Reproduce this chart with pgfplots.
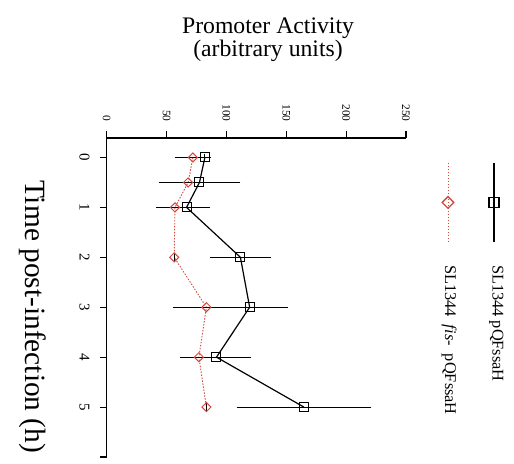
\documentclass[border=0pt]{standalone}
\usepackage{fontspec}
\setmainfont{Liberation Serif}
\usepackage{pgfplots}
\usepackage{pgfplotstable}
\pgfplotsset{compat=1.18}
\definecolor{redc}{RGB}{210,75,62}
\pgfplotstableread{
t a e
0 82 0
0.5 77.5 31
1 66.7 16
2 111.7 22
3 119.4 28.5
4 91.7 26
5 164.7 53
}\wt
\pgfplotstableread{
t a e
0 72 12
0.5 68 14
1 57 13
2 56.4 0
3 83.3 24.5
4 77 13
5 83.3 0
}\fis
\begin{document}
\begin{tikzpicture}
\useasboundingbox (0,0) rectangle (514bp,-464bp);
\begin{axis}[
 at={(106.7bp,-138bp)}, anchor=north west,
 scale only axis, width=299.3bp, height=319bp,
 xmin=0, xmax=250, ymin=-0.39, ymax=6,
 y dir=reverse,
 axis x line=top, axis y line=left,
 axis line style={-, line width=1.1bp, black},
 xtick={0,50,...,250}, ytick={0,...,6}, yticklabels={0,1,2,3,4,5,{}},
 tick align=outside, major tick length=7bp,
 tick style={line width=1.1bp, black},
 /pgf/number format/assume math mode=true,
 xticklabel shift=6bp,
 every x tick label/.style={rotate=-90, anchor=east, font=\fontsize{11.5}{12}\selectfont},
 every y tick label/.style={xshift=-8bp, rotate=-90, anchor=north, inner sep=2bp, font=\fontsize{15}{16}\selectfont},
 xlabel={Promoter Activity\\(arbitrary units)},
 every axis x label/.style={at={(axis description cs:0.539,1.308)}, anchor=center, align=center, font=\fontsize{23.8}{23.5}\selectfont},
 ylabel={Time post-infection (h)},
 every axis y label/.style={at={(axis description cs:-0.246,0.44)}, anchor=center, rotate=-90, font=\fontsize{29.5}{31}\selectfont},
 clip=false,
]
\addplot[redc, line width=0.9bp, dash pattern=on 1.5bp off 1.5bp, mark=square, mark size=3.2bp,
  mark options={rotate=45, solid, fill=white, line width=1bp, draw=redc},
  error bars/.cd, x dir=both, x explicit,
  error bar style={black, solid, line width=0.9bp},
  error mark options={black, solid, mark size=3.8bp, line width=0.9bp}]
  table[x=a, y=t, x error=e] {\fis};
\addplot[black, line width=1.2bp, mark=square, mark size=4.5bp,
  mark options={solid, fill=white, line width=1bp},
  error bars/.cd, x dir=both, x explicit,
  error bar style={black, solid, line width=0.9bp},
  error mark options={black, solid, mark size=3.8bp, line width=0.9bp}]
  table[x=a, y=t, x error=e] {\wt};
% legend (rotated, drawn in axis coordinates)
\addplot[black, line width=1.2bp, mark=square, mark size=5bp, mark repeat=2, mark phase=2,
  mark options={solid, fill=white, line width=1.1bp}]
  coordinates {(323.5,0.11) (323.5,0.90) (323.5,1.69)};
\addplot[redc, line width=0.9bp, dash pattern=on 1.5bp off 1.5bp, mark=square, mark size=4.1bp, mark repeat=2, mark phase=2,
  mark options={rotate=45, solid, fill=white, line width=1.3bp, draw=redc}]
  coordinates {(285.1,0.11) (285.1,0.90) (285.1,1.69)};
\node[rotate=-90, anchor=west, inner sep=0pt, font=\fontsize{16.4}{18}\selectfont] at (axis cs:325.5,2.15) {SL1344 pQFssaH};
\node[rotate=-90, anchor=west, inner sep=0pt, font=\fontsize{16.4}{18}\selectfont] at (axis cs:286,2.15) {SL1344\hspace{0.5em}\textit{fis}-\hspace{0.5em}pQFssaH};
\end{axis}
\end{tikzpicture}
\end{document}
